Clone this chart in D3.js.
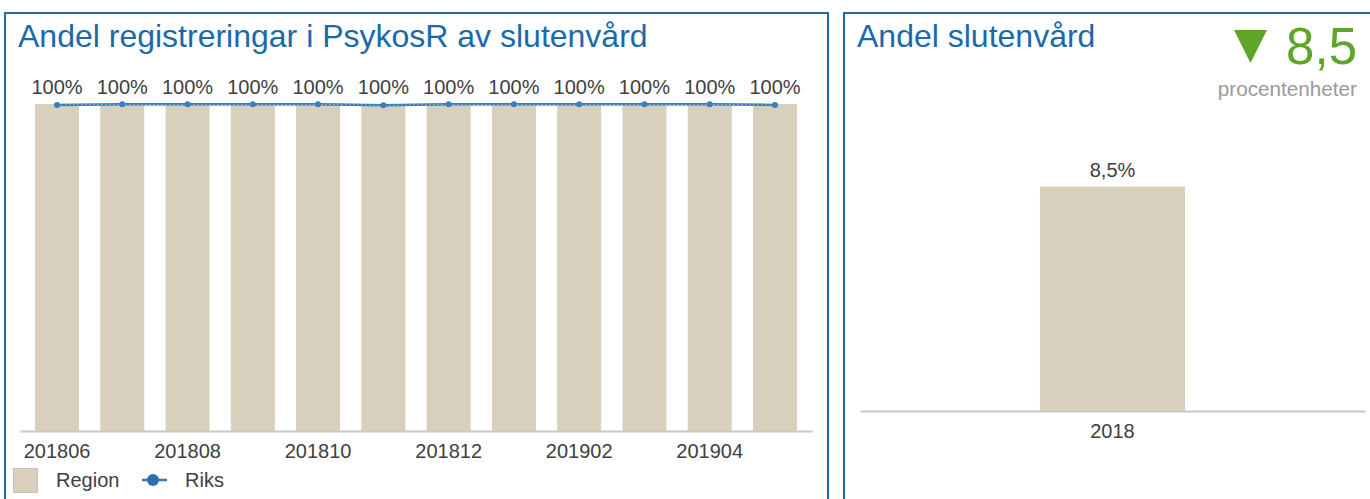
<!DOCTYPE html>
<html>
<head>
<meta charset="utf-8">
<script src="https://cdn.jsdelivr.net/npm/d3@7"></script>
<style>
  body { margin: 0; background: #fff; font-family: "Liberation Sans", Arial, sans-serif; }
  svg { display: block; }
  .title { fill: #1a6aab; font-size: 32px; }
  .lbl { fill: #404040; font-size: 20px; }
</style>
</head>
<body>
<svg id="chart" width="1370" height="499"></svg>
<script>
// ---- data ----
let months = ['201806', '201807', '201808', '201809', '201810', '201811',
  '201812', '201901', '201902', '201903', '201904', '201905'];
let regionValues = [1, 1, 1, 1, 1, 1, 1, 1, 1, 1, 1, 1];
let riksValues = [0.997, 0.999, 0.999, 0.999, 0.999, 0.996, 0.999, 0.999, 0.999, 0.999, 0.999, 0.997];
let years = ['2018'];
let slutenValues = [8.5];
let changeValue = '8,5';

let svg = d3.select('#chart');

//======= panels =======//
svg.append('rect')
  .attr('x', 5).attr('y', 13).attr('width', 823).attr('height', 500)
  .attr('fill', 'none').attr('stroke', '#1a6aab').attr('stroke-width', 2);
svg.append('rect')
  .attr('x', 844).attr('y', 13).attr('width', 540).attr('height', 500)
  .attr('fill', 'none').attr('stroke', '#1a6aab').attr('stroke-width', 2);

//======= left chart =======//
svg.append('text').attr('class', 'title')
  .attr('x', 18).attr('y', 47)
  .text('Andel registreringar i PsykosR av slutenvård');

let x = d3.scaleBand()
  .domain(months)
  .range([20, 812])
  .paddingInner(0.326)
  .paddingOuter(0.23);

let y = d3.scaleLinear()
  .domain([0, 1])
  .range([431, 104]);

let left = svg.append('g');

left.selectAll('.bar')
  .data(regionValues)
  .enter()
  .append('rect')
  .attr('class', 'bar')
  .attr('x', (d, i) => x(months[i]))
  .attr('y', d => y(d))
  .attr('width', x.bandwidth())
  .attr('height', d => y(0) - y(d))
  .attr('fill', '#d8d0bc');

let xAxis = left.append('g')
  .attr('transform', 'translate(0,' + y(0) + ')')
  .call(d3.axisBottom(x)
    .tickSize(0)
    .tickPadding(10)
    .tickValues(months.filter((m, i) => i % 2 == 0)));
xAxis.select('.domain').attr('stroke', '#c8c8c8').attr('stroke-width', 2);
xAxis.selectAll('text')
  .attr('class', 'lbl')
  .attr('font-family', null)
  .attr('font-size', null)
  .attr('fill', null)
  .attr('dy', '0.85em');

// value labels
left.selectAll('.val')
  .data(regionValues)
  .enter()
  .append('text')
  .attr('class', 'lbl')
  .attr('text-anchor', 'middle')
  .attr('x', (d, i) => x(months[i]) + x.bandwidth() / 2)
  .attr('y', d => y(d) - 10)
  .text(d => d3.format('.0%')(d));

// riks line
let line = d3.line()
  .x((d, i) => x(months[i]) + x.bandwidth() / 2)
  .y(d => y(d));

left.append('path')
  .datum(riksValues)
  .attr('fill', 'none')
  .attr('stroke', '#2f78bb')
  .attr('stroke-width', 2.5)
  .attr('d', line);
left.append('path')
  .datum(riksValues)
  .attr('fill', 'none')
  .attr('stroke', '#9cc3e6')
  .attr('stroke-width', 1)
  .attr('stroke-dasharray', '1.5,2.5')
  .attr('d', line);

left.selectAll('.dot')
  .data(riksValues)
  .enter()
  .append('circle')
  .attr('cx', (d, i) => x(months[i]) + x.bandwidth() / 2)
  .attr('cy', d => y(d))
  .attr('r', 3)
  .attr('fill', '#3b7dbf');

// legend
let legend = svg.append('g');
legend.append('rect')
  .attr('x', 13.5).attr('y', 468.5).attr('width', 24).attr('height', 24)
  .attr('fill', '#d8d0bc')
  .attr('stroke', '#a09a8e').attr('stroke-dasharray', '1,1');
legend.append('text').attr('class', 'lbl')
  .attr('x', 56).attr('y', 487).text('Region');
legend.append('line')
  .attr('x1', 142).attr('x2', 167).attr('y1', 480).attr('y2', 480)
  .attr('stroke', '#2f78bb').attr('stroke-width', 2.5);
legend.append('circle')
  .attr('cx', 153).attr('cy', 480).attr('r', 6)
  .attr('fill', '#2f6fae');
legend.append('text').attr('class', 'lbl')
  .attr('x', 185).attr('y', 487).text('Riks');

//======= right chart =======//
svg.append('text').attr('class', 'title')
  .attr('x', 857).attr('y', 47)
  .text('Andel slutenvård');

// change indicator (down triangle + value)
let kpi = svg.append('g');
let tri = 16.5;
kpi.append('path')
  .attr('d', 'M' + (-tri) + ',' + (-tri) + 'L' + tri + ',' + (-tri) + 'L0,' + tri + 'Z')
  .attr('transform', 'translate(1250.5,46.5)')
  .attr('fill', '#5ea52a');
kpi.append('text')
  .attr('x', 1357).attr('y', 64)
  .attr('text-anchor', 'end')
  .attr('font-size', 51)
  .attr('fill', '#5ea52a')
  .text(changeValue);
kpi.append('text')
  .attr('x', 1357).attr('y', 96)
  .attr('text-anchor', 'end')
  .attr('font-size', 20.7)
  .attr('fill', '#9a9a9a')
  .text('procentenheter');

let x2 = d3.scaleBand()
  .domain(years)
  .range([860, 1365])
  .paddingInner(0)
  .paddingOuter(1.24);

let y2 = d3.scaleLinear()
  .domain([0, 10])
  .range([411, 147]);

let right = svg.append('g');

right.selectAll('.bar2')
  .data(slutenValues)
  .enter()
  .append('rect')
  .attr('x', (d, i) => x2(years[i]))
  .attr('y', d => y2(d))
  .attr('width', x2.bandwidth())
  .attr('height', d => y2(0) - y2(d))
  .attr('fill', '#d8d0bc');

let xAxis2 = right.append('g')
  .attr('transform', 'translate(0,' + y2(0) + ')')
  .call(d3.axisBottom(x2).tickSize(0).tickPadding(10));
xAxis2.select('.domain').attr('stroke', '#c8c8c8').attr('stroke-width', 2);
xAxis2.selectAll('text')
  .attr('class', 'lbl')
  .attr('font-family', null)
  .attr('font-size', null)
  .attr('fill', null)
  .attr('dy', '0.85em');

right.selectAll('.val2')
  .data(slutenValues)
  .enter()
  .append('text')
  .attr('class', 'lbl')
  .attr('text-anchor', 'middle')
  .attr('x', (d, i) => x2(years[i]) + x2.bandwidth() / 2)
  .attr('y', d => y2(d) - 10)
  .text(d => d3.format('.1f')(d).replace('.', ',') + '%');
</script>
</body>
</html>
